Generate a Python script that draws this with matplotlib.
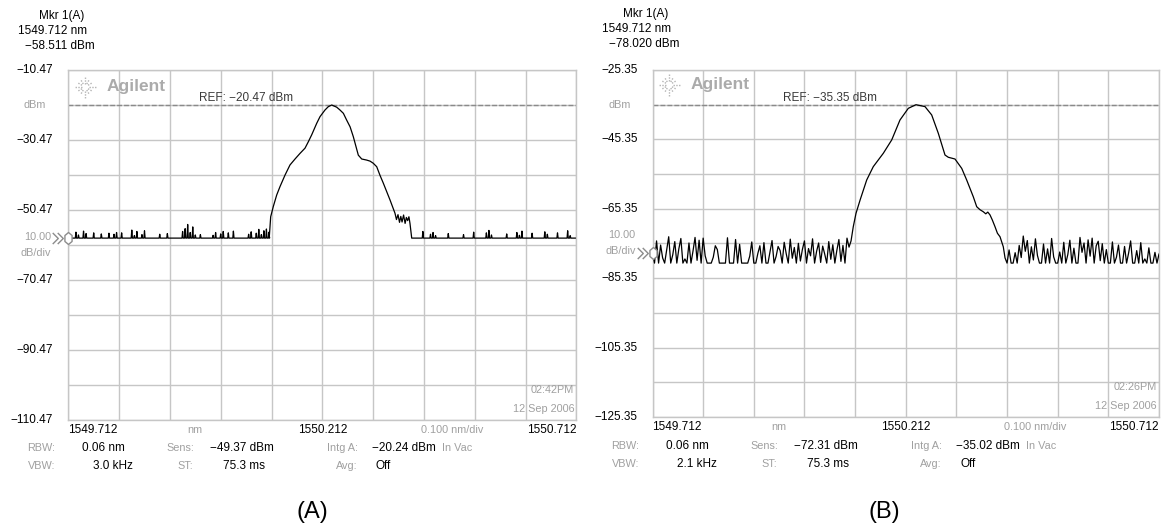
import numpy as np
import matplotlib
matplotlib.use("Agg")
import matplotlib.pyplot as plt
from matplotlib.path import Path
from matplotlib.lines import Line2D
from matplotlib.transforms import ScaledTranslation

plt.rcParams['font.family'] = ['Liberation Sans', 'DejaVu Sans']

# ---------------- instrument settings ----------------
start_nm = 1549.712
nm_per_div = 0.100
db_per_div = 10.0

a_top_dbm = -10.47
a_ref_dbm = -20.47
b_top_dbm = -25.35
b_ref_dbm = -35.35

a_mkr = (1549.712, -58.511)
b_mkr = (1549.712, -78.020)

a_info = {"rbw": "0.06 nm", "vbw": "3.0 kHz", "sens": "\u221249.37 dBm", "st": "75.3 ms",
          "intg": "\u221220.24 dBm", "avg": "Off", "time": "02:42PM", "date": "12 Sep 2006"}
b_info = {"rbw": "0.06 nm", "vbw": "2.1 kHz", "sens": "\u221272.31 dBm", "st": "75.3 ms",
          "intg": "\u221235.02 dBm", "avg": "Off", "time": "02:26PM", "date": "12 Sep 2006"}

# ---------------- trace A (dBm) ----------------
a_floor_dbm = -58.5
a_noise_step = 0.005
a_noise_left = [
    -58.5, -58.5, -58.5, -56.8, -57.6, -58.5, -56.5, -57.2, -58.5, -58.5,
    -57.0, -58.5, -58.5, -57.3, -58.5, -58.5, -57.1, -58.5, -57.4, -56.9,
    -58.5, -57.0, -58.5, -58.5, -58.5, -56.2, -57.8, -56.6, -58.5, -57.5,
    -56.4, -58.5, -58.5, -58.5, -58.5, -58.5, -57.4, -58.5, -58.5, -57.2,
    -58.5, -58.5, -58.5, -58.5, -58.5, -56.6, -55.8, -54.6, -56.9, -55.3,
    -57.6, -58.5, -57.5, -58.5, -58.5, -58.5, -58.5, -57.7, -56.9, -58.5,
    -57.3, -56.6, -58.5, -57.0, -58.5, -56.5, -58.5, -58.5, -58.5, -58.5,
    -58.5, -57.4, -56.7, -58.5, -57.1, -56.0, -57.5, -56.4, -55.9, -56.8]
a_noise_right_start = 1550.390
a_noise_right = [
    -58.5, -58.5, -58.5, -58.5, -56.6, -58.5, -58.5, -57.4, -56.9, -57.8,
    -58.5, -58.5, -58.5, -58.5, -57.2, -58.5, -58.5, -58.5, -58.5, -58.5,
    -57.5, -58.5, -58.5, -58.5, -56.8, -58.5, -58.5, -58.5, -58.5, -57.0,
    -56.3, -57.6, -58.5, -58.5, -58.5, -58.5, -58.5, -57.3, -58.5, -58.5,
    -58.5, -56.9, -57.7, -56.5, -58.5, -58.5, -58.5, -57.1, -58.5, -58.5,
    -58.5, -58.5, -56.7, -57.4, -58.5, -58.5, -58.5, -57.0, -58.5, -58.5,
    -58.5, -56.4, -57.8, -58.5, -58.5]
a_sig_nm = [1550.1077, 1550.1104, 1550.1155, 1550.1222, 1550.1287, 1550.1386, 1550.1484,
            1550.1583, 1550.1681, 1550.1780, 1550.1844, 1550.1911, 1550.2010, 1550.2075,
            1550.2173, 1550.2238, 1550.2305, 1550.2404, 1550.2468, 1550.2535, 1550.2600,
            1550.2667, 1550.2730, 1550.2785, 1550.2829, 1550.2896, 1550.2992, 1550.3059,
            1550.3122, 1550.3191, 1550.3254, 1550.3321, 1550.3386, 1550.3453, 1550.3551,
            1550.3580, 1550.3610, 1550.3640, 1550.3665, 1550.3690, 1550.3720, 1550.3750,
            1550.3775, 1550.3800, 1550.3825, 1550.3846, 1550.3880]
a_sig_dbm = [-58.1, -52.4, -49.5, -46.2, -43.8, -40.5, -37.6,
             -35.9, -34.3, -32.8, -31.0, -29.0, -25.7, -23.8,
             -21.9, -20.95, -20.47, -21.1, -21.9, -22.85, -24.8,
             -26.7, -29.5, -32.4, -34.8, -35.9, -36.2, -36.5,
             -37.1, -38.1, -40.5, -42.8, -45.2, -47.6, -51.4,
             -53.2, -51.8, -54.0, -52.3, -53.9, -51.9, -54.3,
             -52.6, -53.5, -52.4, -54.3, -58.5]

# ---------------- trace B (dBm) ----------------
b_floor_dbm = None
b_noise_step = 0.004
b_noise_left = [
    -78.0, -81.0, -74.6, -81.0, -75.8, -79.5, -81.0, -77.2, -73.4, -81.0,
    -78.6, -74.8, -81.0, -76.9, -73.9, -81.0, -79.8, -81.0, -75.2, -81.0,
    -77.5, -73.6, -80.2, -74.4, -81.0, -73.8, -78.9, -81.0, -81.0, -81.0,
    -79.3, -76.0, -77.1, -81.0, -81.0, -81.0, -81.0, -73.7, -81.0, -81.0,
    -81.0, -74.2, -81.0, -75.6, -81.0, -81.0, -81.0, -81.0, -79.0, -74.9,
    -81.0, -81.0, -78.2, -76.0, -81.0, -75.1, -81.0, -81.0, -77.8, -74.5,
    -81.0, -79.1, -76.2, -77.4, -81.0, -75.0, -78.3, -81.0, -74.1, -79.6,
    -76.5, -81.0, -75.3, -80.4, -77.0, -74.6, -81.0, -76.8, -78.9, -74.0,
    -81.0, -77.6, -75.2, -80.8, -76.1, -78.4, -81.0, -74.8, -79.9, -75.7,
    -81.0, -77.3, -74.2, -80.5, -75.9, -81.0, -73.8, -76.4, -74.6]
b_noise_right_start = 1550.408
b_noise_right = [
    -79.5, -81.0, -77.2, -81.0, -81.0, -78.0, -81.0, -75.9, -79.4, -73.2,
    -77.6, -74.5, -81.0, -76.3, -80.1, -74.0, -78.8, -81.0, -81.0, -75.5,
    -81.0, -76.9, -81.0, -73.9, -79.2, -81.0, -81.0, -77.8, -81.0, -75.0,
    -81.0, -78.5, -74.4, -81.0, -76.7, -81.0, -81.0, -73.6, -77.9, -75.2,
    -81.0, -74.3, -79.0, -73.8, -81.0, -76.0, -74.7, -80.3, -75.4, -81.0,
    -77.1, -81.0, -81.0, -74.9, -81.0, -79.3, -75.8, -81.0, -81.0, -76.2,
    -81.0, -78.1, -74.6, -81.0, -81.0, -77.4, -81.0, -75.1, -81.0, -79.8,
    -81.0, -76.6, -81.0, -81.0, -77.9, -81.0, -78.4]
b_sig_nm = [1550.1053, 1550.1084, 1550.1138, 1550.1219, 1550.1349, 1550.1479, 1550.1677,
            1550.1843, 1550.2006, 1550.2170, 1550.2322, 1550.2500, 1550.2632, 1550.2763,
            1550.2895, 1550.2960, 1550.3092, 1550.3225, 1550.3323, 1550.3454, 1550.3521,
            1550.3585, 1550.3651, 1550.3700, 1550.3740, 1550.3783, 1550.3830, 1550.3882,
            1550.3930, 1550.3981, 1550.4046]
b_sig_dbm = [-73.4, -70.5, -66.65, -62.8, -57.05, -53.2, -49.35,
             -45.5, -39.76, -36.4, -35.35, -35.9, -38.3, -43.6,
             -49.85, -50.5, -51.0, -53.7, -57.05, -61.9, -64.75,
             -65.6, -66.2, -66.8, -66.3, -67.1, -68.6, -70.5,
             -72.4, -73.4, -76.3]

# ---------------- figure ----------------
W, H = 1163, 531
fig = plt.figure(figsize=(W / 100, H / 100), dpi=100)

GRID = '#c6c6c6'
GRAY_TXT = '#a0a0a0'
FS = 8.5
FS_SMALL = 7.8


def fx(x):
    return x / W


def fy(y):
    return 1 - y / H


def minus(s):
    return s.replace('-', '\u2212')


def noise_path(nm, vals, floor, half_width):
    """Samples above the floor drawn as narrow spikes that drop back to the floor."""
    if floor is None:
        return np.asarray(nm), np.asarray(vals)
    xs, ys = [], []
    for x, v in zip(nm, vals):
        if v > floor:
            xs += [x - half_width, x, x + half_width]
            ys += [floor, v, floor]
        else:
            xs.append(x)
            ys.append(v)
    return np.array(xs), np.array(ys)


hex_marker = Path([(0, 1), (0.6, 0.5), (0.6, -0.5), (0, -1), (-0.6, -0.5), (-0.6, 0.5), (0, 1)],
                  [Path.MOVETO] + [Path.LINETO] * 5 + [Path.CLOSEPOLY])
chevron = Path([(-0.5, 1), (0.5, 0), (-0.5, -1)], [Path.MOVETO, Path.LINETO, Path.LINETO])


def draw_logo(cx, cy):
    for ang in np.arange(0, 360, 30):
        r = np.deg2rad(ang)
        r0, r1 = 3.5, (11 if ang % 90 == 0 else 9)
        fig.add_artist(Line2D([fx(cx + r0 * np.cos(r)), fx(cx + r1 * np.cos(r))],
                              [fy(cy - r0 * np.sin(r)), fy(cy - r1 * np.sin(r))],
                              transform=fig.transFigure, color='#b4b4b4', lw=1.0,
                              linestyle=(0, (1, 1))))
    fig.text(fx(cx + 22), fy(cy), 'Agilent', fontsize=12.5, fontweight='bold',
             color='#ababab', ha='left', va='center')


def draw_panel(left, top, w, h, dx, dy, top_dbm, ref_dbm, mkr,
               noise_l, step, noise_r_start, noise_r, floor, sig_nm, sig_dbm, info,
               caption, cap_x):
    ax = fig.add_axes([fx(left), fy(top + h), w / W, h / H])
    x0, x1 = start_nm, start_nm + 10 * nm_per_div
    y1, y0 = top_dbm, top_dbm - 10 * db_per_div
    ax.set_xlim(x0, x1)
    ax.set_ylim(y0, y1)
    ax.set_xticks(np.linspace(x0, x1, 11))
    ax.set_yticks(np.linspace(y0, y1, 11))
    ax.grid(True, color=GRID, lw=1.0)
    ax.set_axisbelow(True)
    ax.tick_params(length=0, labelbottom=False, labelleft=False)
    for s in ax.spines.values():
        s.set_color(GRID)
        s.set_linewidth(1.0)

    # trace: noise floor on both sides, signal in between
    nl = start_nm + step * np.arange(len(noise_l))
    nr = noise_r_start + step * np.arange(len(noise_r))
    lx, ly = noise_path(nl, noise_l, floor, 0.0012)
    rx, ry = noise_path(nr, noise_r, floor, 0.0012)
    xs = np.concatenate([lx, sig_nm, rx])
    ys = np.concatenate([ly, sig_dbm, ry])
    ax.plot(xs, ys, color='black', lw=0.9, zorder=3)

    # reference level
    ax.axhline(ref_dbm, color='#8a8a8a', lw=1.0, dashes=(3.5, 1.5), zorder=2)
    ax.annotate(minus(f"REF: {ref_dbm:.2f} dBm"), xy=(0.258, ref_dbm),
                xycoords=('axes fraction', 'data'), xytext=(0, 7),
                textcoords='offset pixels', ha='left', va='center',
                fontsize=FS, color='#3a3a3a')

    # marker at left edge
    ax.plot([mkr[0]], [mkr[1]], marker=hex_marker, ms=8.6, mfc='white',
            mec='#8c8c8c', mew=1.0, clip_on=False, zorder=5)
    for off in (-13, -8):
        tr = ax.transData + ScaledTranslation(off / 100, 0, fig.dpi_scale_trans)
        ax.plot([mkr[0]], [mkr[1]], marker=chevron, ms=8.0, mfc='none',
                mec='#8c8c8c', mew=1.0, clip_on=False, transform=tr, zorder=5)

    # amplitude labels
    for k in range(0, 11, 2):
        v = top_dbm - k * db_per_div
        ax.annotate(minus(f"{v:.2f}"), xy=(0, v), xycoords=('axes fraction', 'data'),
                    xytext=(-15, 0), textcoords='offset pixels', ha='right',
                    va='center', fontsize=FS, color='black')
    ax.annotate('dBm', xy=(0, top_dbm - db_per_div), xycoords=('axes fraction', 'data'),
                xytext=(-22, 0), textcoords='offset pixels', ha='right', va='center',
                fontsize=FS_SMALL, color=GRAY_TXT)
    mid = top_dbm - 5 * db_per_div
    ax.annotate(f"{db_per_div:.2f}", xy=(0, mid), xycoords=('axes fraction', 'data'),
                xytext=(-17, 8), textcoords='offset pixels', ha='right', va='center',
                fontsize=FS_SMALL, color=GRAY_TXT)
    ax.annotate('dB/div', xy=(0, mid), xycoords=('axes fraction', 'data'),
                xytext=(-17, -8), textcoords='offset pixels', ha='right', va='center',
                fontsize=FS_SMALL, color=GRAY_TXT)

    # wavelength labels
    xl = dict(xycoords=('data', 'axes fraction'), xytext=(0, -10),
              textcoords='offset pixels', va='center')
    ax.annotate(f"{x0:.3f}", xy=(x0, 0), ha='left', fontsize=FS, color='black', **xl)
    ax.annotate(f"{(x0 + x1) / 2:.3f}", xy=((x0 + x1) / 2, 0), ha='center',
                fontsize=FS, color='black', **xl)
    ax.annotate(f"{x1:.3f}", xy=(x1, 0), ha='right', fontsize=FS, color='black', **xl)
    ax.annotate('nm', xy=(x0 + 2.5 * nm_per_div, 0), ha='center', fontsize=FS_SMALL,
                color=GRAY_TXT, **xl)
    ax.annotate(f"{nm_per_div:.3f} nm/div", xy=(x0 + 7.55 * nm_per_div, 0), ha='center',
                fontsize=FS_SMALL, color=GRAY_TXT, **xl)

    # time stamp
    ax.annotate(info["time"], xy=(1, 0), xycoords='axes fraction', xytext=(-2, 30),
                textcoords='offset pixels', ha='right', va='center',
                fontsize=FS_SMALL, color=GRAY_TXT)
    ax.annotate(info["date"], xy=(1, 0), xycoords='axes fraction', xytext=(-2, 11),
                textcoords='offset pixels', ha='right', va='center',
                fontsize=FS_SMALL, color=GRAY_TXT)

    # marker readout
    fig.text(fx(39 + dx), fy(16 + dy), 'Mkr 1(A)', fontsize=FS, ha='left', va='center')
    fig.text(fx(18 + dx), fy(31 + dy), f"{mkr[0]:.3f} nm", fontsize=FS, ha='left', va='center')
    fig.text(fx(25 + dx), fy(46 + dy), minus(f"{mkr[1]:.3f} dBm"), fontsize=FS,
             ha='left', va='center')

    # logo
    draw_logo(85 + dx, 87 + dy)

    # settings rows
    r1, r2 = 448 + dy, 466 + dy
    rows = [
        ('RBW:', 55, r1, 'right', GRAY_TXT, FS_SMALL),
        (info["rbw"], 82, r1, 'left', 'black', FS),
        ('Sens:', 194, r1, 'right', GRAY_TXT, FS_SMALL),
        (info["sens"], 210, r1, 'left', 'black', FS),
        ('Intg A:', 358, r1, 'right', GRAY_TXT, FS_SMALL),
        (info["intg"], 372, r1, 'left', 'black', FS),
        ('In Vac', 442, r1, 'left', GRAY_TXT, FS_SMALL),
        ('VBW:', 55, r2, 'right', GRAY_TXT, FS_SMALL),
        (info["vbw"], 133, r2, 'right', 'black', FS),
        ('ST:', 193, r2, 'right', GRAY_TXT, FS_SMALL),
        (info["st"], 223, r2, 'left', 'black', FS),
        ('Avg:', 358, r2, 'right', GRAY_TXT, FS_SMALL),
        (info["avg"], 376, r2, 'left', 'black', FS),
    ]
    for txt, x, y, ha, col, fs in rows:
        fig.text(fx(x + dx), fy(y), txt, ha=ha, va='center', color=col, fontsize=fs)

    fig.text(fx(cap_x), fy(512), caption, ha='center', va='center', fontsize=17)
    return ax


draw_panel(68.3, 70, 508, 350, 0, 0, a_top_dbm, a_ref_dbm, a_mkr,
           a_noise_left, a_noise_step, a_noise_right_start, a_noise_right, a_floor_dbm,
           a_sig_nm, a_sig_dbm, a_info, '(A)', 312)
draw_panel(652.5, 70, 506.5, 347, 584, -2, b_top_dbm, b_ref_dbm, b_mkr,
           b_noise_left, b_noise_step, b_noise_right_start, b_noise_right, b_floor_dbm,
           b_sig_nm, b_sig_dbm, b_info, '(B)', 884)

fig.savefig('out.png', dpi=100, facecolor='white')
